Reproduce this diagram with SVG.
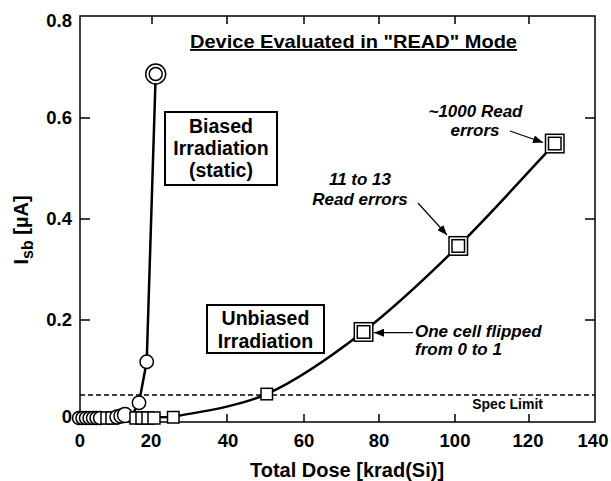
<svg xmlns="http://www.w3.org/2000/svg" width="611" height="481" viewBox="0 0 611 481">
<style>
text{font-family:"Liberation Sans",Arial,Helvetica,sans-serif;font-weight:bold;fill:#000}
.tick{font-size:18.5px}
.lbl{font-size:19.5px;text-anchor:middle}
.ann{font-size:17px;font-style:italic}
.frame{fill:none;stroke:#000;stroke-width:1.5}
.curve{fill:none;stroke:#000;stroke-width:2.5;stroke-linejoin:round}
.mk{fill:#fff;stroke:#000;stroke-width:1.5}
.box{fill:#fff;stroke:#000;stroke-width:2}
.arr{stroke:#000;stroke-width:1.2;fill:none}
</style>
<defs>
<marker id="ah" viewBox="0 0 10 8" refX="10" refY="4" markerWidth="10" markerHeight="8" markerUnits="userSpaceOnUse" orient="auto">
<path d="M0,0 L10,4 L0,8 Z" fill="#000"/>
</marker>
</defs>
<rect fill="#fff" x="0" y="0" width="611" height="481"/>
<g id="axes">
<rect class="frame" x="80" y="16" width="515" height="406"/>
<path class="frame" d="M152,422V414M227,422V414M304,422V414M379,422V414M455,422V414M529,422V414M152,16V24M227,16V24M304,16V24M379,16V24M455,16V24M529,16V24M80,118H90M80,219H90M80,320H90M595,118H585M595,219H585M595,320H585"/>
<g class="tick" text-anchor="end">
<text x="72" y="27">0.8</text>
<text x="72" y="124">0.6</text>
<text x="72" y="225">0.4</text>
<text x="72" y="326">0.2</text>
<text x="72" y="423">0</text>
</g>
<g class="tick" text-anchor="middle">
<text x="80" y="447">0</text>
<text x="151" y="447">20</text>
<text x="228" y="447">40</text>
<text x="304" y="447">60</text>
<text x="379" y="447">80</text>
<text x="455" y="447">100</text>
<text x="528" y="447">120</text>
<text x="593" y="447">140</text>
</g>
<text x="347" y="477" font-size="20" text-anchor="middle">Total Dose [krad(Si)]</text>
<text transform="translate(28,230) rotate(-90)" font-size="20" text-anchor="middle">I<tspan font-size="16" dy="5">sb</tspan><tspan dy="-5"> [µA]</tspan></text>
<text x="190" y="48" font-size="18.5" textLength="327" lengthAdjust="spacingAndGlyphs" text-decoration="underline">Device Evaluated in "READ" Mode</text>
</g>
<g id="spec-limit">
<line x1="80" y1="395" x2="595" y2="395" stroke="#000" stroke-width="1.5" stroke-dasharray="5,3"/>
<text x="543" y="409" font-size="14" text-anchor="end">Spec Limit</text>
</g>
<g id="connectors">
<path class="curve" d="M131,417 L139,402.7 L146.7,361.7 L155.7,74"/>
<path class="curve" d="M100,418 L173,417 C188.6,413.2 235,408.2 266.7,394 C298.4,379.8 331.4,356.4 363.3,331.7 C395.2,307 426.4,277.4 458.3,246 C490.3,214.6 538.9,160.4 555,143.3"/>
<line class="arr" x1="510" y1="131" x2="543" y2="142.5" marker-end="url(#ah)"/>
<line class="arr" x1="418" y1="203" x2="447" y2="235" marker-end="url(#ah)"/>
<line class="arr" x1="413" y1="332.7" x2="374" y2="332.7" marker-end="url(#ah)" stroke-width="1.5"/>
</g>
<g id="biased-data">
<circle class="mk" cx="79" cy="418" r="6.5"/>
<circle class="mk" cx="82.5" cy="418" r="6.5"/>
<circle class="mk" cx="86" cy="418" r="6.5"/>
<circle class="mk" cx="89.5" cy="418" r="6.5"/>
<circle class="mk" cx="93" cy="418" r="6.5"/>
<circle class="mk" cx="96.5" cy="418" r="6.5"/>
<circle class="mk" cx="100" cy="418" r="6.5"/>
<rect class="mk" x="101" y="412" width="12" height="12"/>
<rect class="mk" x="106" y="412" width="12" height="12"/>
<circle class="mk" cx="117" cy="417" r="7"/>
<circle class="mk" cx="121" cy="416" r="7"/>
<circle class="mk" cx="125" cy="415" r="7.5"/>
<rect class="mk" x="130" y="412" width="12" height="12"/>
<rect class="mk" x="136" y="412" width="12" height="12"/>
<rect class="mk" x="142" y="412" width="12" height="12"/>
<rect class="mk" x="148" y="412" width="12" height="12"/>
<circle class="mk" cx="139" cy="402.7" r="6.7"/>
<circle class="mk" cx="146.7" cy="361.7" r="6.7"/>
<circle class="mk" cx="155.7" cy="74" r="10"/>
<circle class="mk" cx="155.7" cy="74" r="6.5"/>
</g>
<g id="unbiased-data">
<rect class="mk" x="167.5" y="411.5" width="11.5" height="11.5"/>
<rect class="mk" x="261" y="388.3" width="11.5" height="11.5"/>
<rect class="mk" x="354.3" y="322.7" width="18.5" height="18.5"/>
<rect class="mk" x="357.3" y="325.7" width="12.5" height="12.5"/>
<rect class="mk" x="449" y="236.7" width="18.5" height="18.5"/>
<rect class="mk" x="452" y="239.7" width="12.5" height="12.5"/>
<rect class="mk" x="545.5" y="134.3" width="18.5" height="18.5"/>
<rect class="mk" x="548.5" y="137.3" width="12.5" height="12.5"/>
</g>
<g id="biased-label">
<rect class="box" x="165" y="112" width="112" height="73"/>
<text class="lbl" x="221" y="133">Biased</text>
<text class="lbl" x="221" y="155">Irradiation</text>
<text class="lbl" x="221" y="177">(static)</text>
</g>
<g id="unbiased-label">
<rect class="box" x="207" y="305" width="117" height="48"/>
<text class="lbl" x="265.5" y="325">Unbiased</text>
<text class="lbl" x="265.5" y="348">Irradiation</text>
</g>
<g id="annotations" class="ann">
<text x="475.5" y="117" text-anchor="middle">~1000 Read</text>
<text x="475" y="136" text-anchor="middle">errors</text>
<text x="360" y="185" text-anchor="middle">11 to 13</text>
<text x="360" y="205" text-anchor="middle">Read errors</text>
<text x="415" y="337">One cell flipped</text>
<text x="415" y="355">from 0 to 1</text>
</g>
</svg>
